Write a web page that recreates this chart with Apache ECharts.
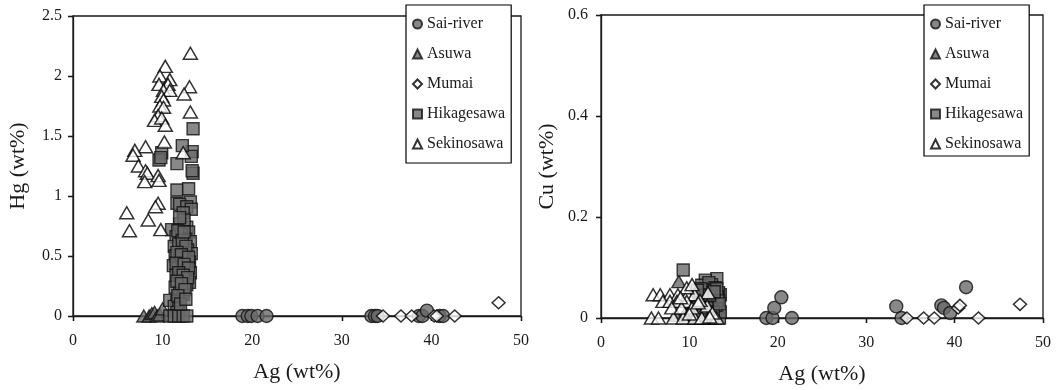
<!DOCTYPE html>
<html>
<head>
<meta charset="utf-8">
<script src="https://cdn.jsdelivr.net/npm/echarts@6/dist/echarts.min.js"></script>
<style>
  html, body { margin: 0; padding: 0; background: #fff; }
  #chart { width: 1057px; height: 390px; }
</style>
</head>
<body>
<div id="chart"></div>
<script>
// ---------- DATA ----------
const seriesNames = ['Sai-river', 'Asuwa', 'Mumai', 'Hikagesawa', 'Sekinosawa'];
const xTitle = 'Ag (wt%)';
const yTitleLeft = 'Hg (wt%)';
const yTitleRight = 'Cu (wt%)';

// Left chart: [Ag, Hg]
const saiHg = [[18.9,0],[19.5,0],[19.9,0],[20.6,0],[21.6,0],[33.3,0],[33.7,0],[34.0,0],[38.6,0],[39.0,0],[39.5,0.045],[40.9,0],[41.3,0]];
const asuwaHg = [[7.9,0],[8.5,0],[8.8,0.02],[9.1,0.03],[9.4,0],[9.7,0.01],[10.0,0.06]];
const mumaiHg = [[34.6,0],[36.6,0],[37.8,0],[40.3,0],[40.6,0],[42.6,0],[47.5,0.11]];
const hikaHg = [[13.4,1.56],[13.3,1.37],[13.2,1.33],[12.2,1.42],[9.9,1.36],[9.6,1.30],[9.8,1.32],[11.6,1.27],[13.4,1.19],[13.3,1.21],
  [11.6,1.05],[12.9,1.06],[13.1,0.95],[11.6,0.94],[11.9,0.93],[12.7,0.91],[13.2,0.89],[12.3,0.86],[11.0,0.72],[11.9,0.77],
  [12.7,0.74],[12.4,0.80],[12.9,0.70],[11.5,0.66],[12.1,0.68],[12.6,0.64],[13.1,0.62],[11.3,0.58],[11.8,0.60],[12.3,0.56],
  [12.8,0.55],[13.2,0.52],[11.4,0.50],[11.9,0.48],[12.5,0.47],[13.0,0.45],[11.2,0.42],[11.7,0.40],[12.2,0.41],[12.7,0.38],
  [13.1,0.36],[11.5,0.34],[12.0,0.32],[12.5,0.30],[13.0,0.28],[11.4,0.24],[12.7,0.26],[11.9,0.20],[12.3,0.18],[10.8,0.13],
  [11.6,0.12],[11.3,0.08],[11.8,0.06],[11.6,0.03],[10.8,0],[11.3,0],[11.8,0],[12.3,0],[12.7,0],
  [11.7,0.71],[12.2,0.63],[12.6,0.58],[11.6,0.53],[12.1,0.51],[12.9,0.49],[11.5,0.44],[12.4,0.43],[12.9,0.40],[11.8,0.36],
  [12.3,0.34],[12.8,0.32],[11.6,0.29],[12.1,0.27],[12.5,0.22],[11.7,0.17],[12.0,0.10],[12.6,0.14],[11.9,0.82],[12.4,0.70]];
const sekiHg = [[13.1,2.19],[10.3,2.08],[9.7,2.0],[10.8,1.97],[9.6,1.93],[10.6,1.93],[10.1,1.88],[10.8,1.88],[13.0,1.91],[12.4,1.85],
  [9.9,1.83],[10.1,1.80],[9.7,1.75],[10.1,1.74],[9.5,1.67],[13.1,1.70],[9.1,1.63],[9.9,1.65],[10.3,1.59],[10.2,1.45],
  [8.1,1.41],[6.9,1.38],[6.7,1.34],[12.3,1.36],[7.3,1.25],[8.1,1.21],[8.3,1.19],[8.0,1.12],[9.5,1.17],[9.6,1.13],
  [9.5,0.94],[9.2,0.91],[6.0,0.86],[8.4,0.80],[6.3,0.71],[9.8,0.72]];

// Right chart: [Ag, Cu]
const saiCu = [[18.7,0],[19.4,0],[19.6,0.02],[20.4,0.041],[21.6,0],[33.4,0.023],[34.0,0],[38.5,0.025],[38.8,0.02],[39.5,0.01],[41.3,0.061]];
const asuwaCu = [[8.8,0.072],[9.5,0.01],[10.2,0.02],[8.5,0.005],[9.9,0],[10.5,0.03],[12.2,0.04]];
const mumaiCu = [[34.6,0],[36.5,0],[37.7,0],[40.4,0.02],[40.6,0.025],[42.7,0],[47.4,0.027]];
const hikaCu = [[9.3,0.095],[13.1,0.078],[11.8,0.075],[11.4,0.065],[12.5,0.066],[13.5,0.046],[12.2,0.07],[11.6,0.055],[12.9,0.06],[13.3,0.035],
  [11.2,0.045],[12.0,0.05],[12.6,0.048],[11.5,0.035],[12.1,0.03],[12.8,0.03],[13.2,0.02],[11.3,0.02],[11.9,0.015],[12.4,0.018],
  [13.0,0.01],[11.1,0.01],[11.7,0.005],[12.3,0.008],[12.9,0],[13.4,0],[11.0,0],[11.6,0],[12.1,0],[12.6,0],
  [13.3,0.05],[10.9,0.025],[12.7,0.04],[11.8,0.04],[13.5,0.012],[10.6,0.005],[12.4,0.055],[11.3,0.058],[13.0,0.025],[12.2,0.01],
  [10.8,0.04],[11.4,0.03],[11.9,0.025],[12.5,0.035],[13.2,0.042],[10.7,0.015],[11.2,0.005],[12.0,0.02],[12.7,0.012],[13.4,0.028],
  [11.6,0.045],[12.3,0.045],[10.9,0.055],[13.1,0.058],[12.8,0.052]];
const sekiCu = [[5.7,0],[6.5,0],[8.2,0],[9.3,0],[10.6,0],[11.4,0],[13.1,0],[5.9,0.046],[6.7,0.046],[7.8,0.046],
  [8.7,0.046],[9.8,0.046],[10.6,0.046],[9.7,0.06],[12.1,0.05],[7.0,0.033],[7.8,0.033],[8.6,0.033],[9.7,0.033],[8.0,0.02],
  [9.1,0.02],[10.3,0.02],[12.0,0.024],[10.3,0.066],[11.2,0.035],[10.0,0.008],[12.6,0.01],[11.0,0.03],[9.0,0.04],[12.3,0.002]];

// ---------- STYLE ----------
const FONT = 'Liberation Serif';
const INK = '#1a1a1a';
const gray = { color: '#6a6a6a', borderColor: '#111111', borderWidth: 1.4 };
const white = { color: '#ffffff', borderColor: '#000000', borderWidth: 1.5 };
const seriesStyle = {
  'Sai-river': { symbol: 'circle', symbolSize: 13, itemStyle: gray },
  'Asuwa': { symbol: 'triangle', symbolSize: [14, 12], itemStyle: gray },
  'Mumai': { symbol: 'diamond', symbolSize: [13, 12], itemStyle: white },
  'Hikagesawa': { symbol: 'rect', symbolSize: 12, itemStyle: gray },
  'Sekinosawa': { symbol: 'triangle', symbolSize: [14, 12], itemStyle: white }
};
const leftData = { 'Sai-river': saiHg, 'Asuwa': asuwaHg, 'Mumai': mumaiHg, 'Hikagesawa': hikaHg, 'Sekinosawa': sekiHg };
const rightData = { 'Sai-river': saiCu, 'Asuwa': asuwaCu, 'Mumai': mumaiCu, 'Hikagesawa': hikaCu, 'Sekinosawa': sekiCu };

function mainX(grid) {
  return {
    type: 'value', gridIndex: grid, min: 0, max: 50, interval: 10,
    axisLine: { onZero: false, lineStyle: { color: INK, width: 1.3 } },
    axisTick: { inside: false, length: 5, lineStyle: { color: INK, width: 1.3 } },
    axisLabel: { color: INK, fontFamily: FONT, fontSize: 16, margin: 17 },
    splitLine: { show: false },
    name: xTitle, nameLocation: 'middle', nameGap: 45,
    nameTextStyle: { color: INK, fontFamily: FONT, fontSize: 22 }
  };
}
function overlayX(grid) {
  return {
    type: 'value', gridIndex: grid, min: 0, max: 50, interval: 10,
    axisLine: { show: false },
    axisTick: { inside: true, length: 5, lineStyle: { color: INK, width: 1.3 } },
    axisLabel: { show: false }, splitLine: { show: false }
  };
}
function mainY(grid, max, interval, title, gap, margin) {
  return {
    type: 'value', gridIndex: grid, min: 0, max: max, interval: interval,
    axisLine: { onZero: false, lineStyle: { color: INK, width: 1.3 } },
    axisTick: { inside: false, length: 5, lineStyle: { color: INK, width: 1.3 } },
    axisLabel: { color: INK, fontFamily: FONT, fontSize: 16, margin: margin },
    splitLine: { show: false },
    name: title, nameLocation: 'middle', nameGap: gap,
    nameTextStyle: { color: INK, fontFamily: FONT, fontSize: 22 }
  };
}
function overlayY(grid, max, interval) {
  return {
    type: 'value', gridIndex: grid, min: 0, max: max, interval: interval,
    axisLine: { show: false },
    axisTick: { inside: true, length: 5, lineStyle: { color: INK, width: 1.3 } },
    axisLabel: { show: false }, splitLine: { show: false }
  };
}
function legendAt(left, padding, gap) {
  return {
    left: left, top: 5, orient: 'vertical', selectedMode: false,
    data: seriesNames, itemWidth: 9, itemHeight: 9, itemGap: gap,
    padding: padding, backgroundColor: '#fff', borderColor: '#000', borderWidth: 1.2,
    textStyle: { color: INK, fontFamily: FONT, fontSize: 16, lineHeight: 16 },
    z: 10
  };
}

const series = [];
seriesNames.forEach(n => {
  series.push(Object.assign({ type: 'scatter', name: n, xAxisIndex: 0, yAxisIndex: 0, data: leftData[n], clip: false, emphasis: { disabled: true } }, seriesStyle[n]));
});
seriesNames.forEach(n => {
  series.push(Object.assign({ type: 'scatter', name: n, xAxisIndex: 2, yAxisIndex: 2, data: rightData[n], clip: false, emphasis: { disabled: true } }, seriesStyle[n]));
});

const option = {
  animation: false,
  backgroundColor: '#fff',
  grid: [
    { left: 73, top: 16, width: 448, height: 300, show: true, borderColor: INK, borderWidth: 1.3, backgroundColor: 'transparent' },
    { left: 601, top: 15, width: 442, height: 307, show: true, borderColor: INK, borderWidth: 1.3, backgroundColor: 'transparent' }
  ],
  xAxis: [mainX(0), overlayX(0), mainX(1), overlayX(1)],
  yAxis: [
    mainY(0, 2.5, 0.5, yTitleLeft, 44, 11), overlayY(0, 2.5, 0.5),
    mainY(1, 0.6, 0.2, yTitleRight, 43, 13), overlayY(1, 0.6, 0.2)
  ],
  legend: [
    legendAt(406, [11, 6, 11, 6], 14),
    legendAt(924, [11, 6, 4, 6], 14)
  ],
  series: series
};

const chart = echarts.init(document.getElementById('chart'), null, { renderer: 'canvas' });
chart.setOption(option);
</script>
</body>
</html>
